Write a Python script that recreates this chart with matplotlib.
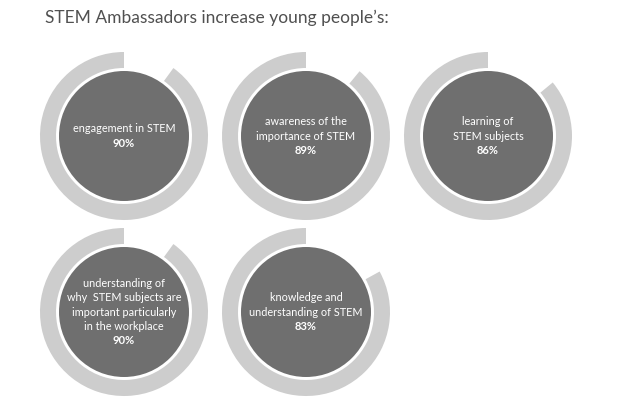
import matplotlib
matplotlib.use('Agg')
from matplotlib import pyplot as plt
from matplotlib.patches import Wedge, Circle

title = "STEM Ambassadors increase young people’s:"
labels = [
    'engagement in STEM',
    'awareness of the\nimportance of STEM',
    'learning of\nSTEM subjects',
    'understanding of\nwhy  STEM subjects are\nimportant particularly\nin the workplace',
    'knowledge and\nunderstanding of STEM',
]
values = [90, 89, 86, 90, 83]
pct_labels = ['90%', '89%', '86%', '90%', '83%']

ring_color = '#cdcdcd'
fill_color = '#6f6f6f'

if __name__ == '__main__':
    plt.rcParams['font.family'] = ['Lato', 'DejaVu Sans']
    fig = plt.figure(figsize=(6.32, 4.0), dpi=100)
    ax = fig.add_axes([0, 0, 1, 1])
    ax.set_xlim(0, 632)
    ax.set_ylim(400, 0)
    ax.set_aspect('equal')
    ax.axis('off')

    # grid layout: 3 per row
    x0, y0, dx, dy = 124, 136, 182, 176
    r_out, ring_w, r_fill = 84, 16, 65
    line_h = 14.2

    for i, (lab, v, p) in enumerate(zip(labels, values, pct_labels)):
        cx = x0 + (i % 3) * dx
        cy = y0 + (i // 3) * dy
        # y axis is inverted, so angles run clockwise on screen
        # arc starts at 12 o'clock and goes round anticlockwise (on screen)
        gap = 360 * (100 - v) / 100
        ax.add_patch(Wedge((cx, cy), r_out, 270 + gap, 270 + 360,
                           width=ring_w, color=ring_color, lw=0))
        ax.add_patch(Circle((cx, cy), r_fill, color=fill_color, lw=0))
        lines = lab.split('\n')
        n = len(lines) + 1
        top = cy - (n - 1) * line_h / 2
        for k, ln in enumerate(lines):
            ax.text(cx, top + k * line_h, ln, color='white', fontsize=7.8,
                    ha='center', va='center')
        ax.text(cx, top + len(lines) * line_h, p, color='white', fontsize=8,
                fontweight='bold', ha='center', va='center')

    ax.text(45, 18, title, color='#505050', fontsize=12.5,
            ha='left', va='center')

    plt.savefig('out.png', dpi=100)
